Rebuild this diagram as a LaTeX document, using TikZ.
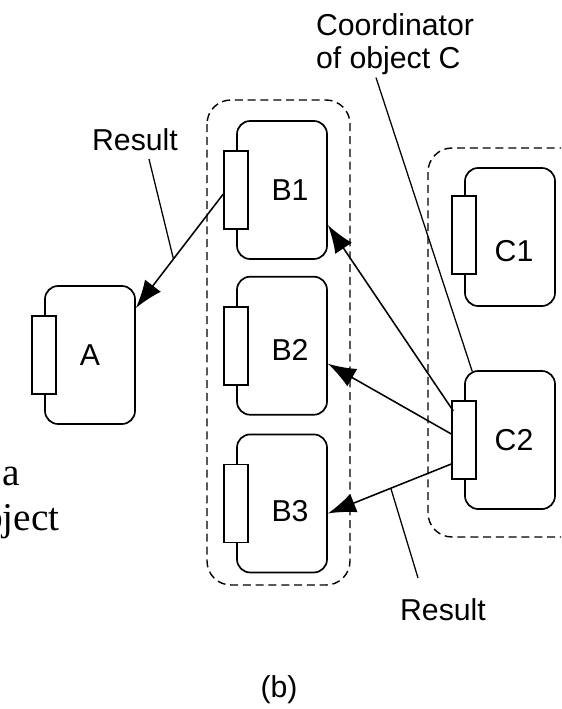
\documentclass[tikz,border=0pt]{standalone}
\usepackage{fontspec}
\setmainfont{Liberation Sans}
\newfontfamily\serifpart{Liberation Serif}
\usetikzlibrary{arrows.meta}
\usetikzlibrary{calc}
\usetikzlibrary{positioning}
\tikzstyle{object} = [draw, rounded corners=0.33cm, line width=1.2pt,
    minimum width=2.25cm, minimum height=3.45cm]
\tikzstyle{port} = [draw, fill=white, line width=1.2pt,
    minimum width=0.6cm, minimum height=1.95cm]
\tikzstyle{cluster} = [draw, line width=1pt, dash pattern=on 0.2cm off 0.12cm,
    rounded corners=0.6cm]
\tikzstyle{call} = [->, line width=1.1pt]
\tikzstyle{pointer} = [line width=0.9pt]

\begin{document}
\begin{tikzpicture}[x=0.025cm, y=-0.025cm, >={Latex[length=0.7cm,width=0.5cm]},
    every node/.style={font=\fontsize{21.5}{23.5}\selectfont}]
    \clip (0,0) rectangle (561,709);

    % the two dashed object groups
    \draw[cluster] (207,100) rectangle (350,585);
    \draw[cluster] (428,148) rectangle (610,537);

    % objects, each with its port on the left side
    \node [object, label={[yshift=0cm]center:A}] (A) at (90,355) {};
    \node [object, label={[xshift=0.2cm]center:B1}] (B1) at (282,190) {};
    \node [object, below=0.4cm of B1, label={[xshift=0.2cm,yshift=-0.1cm]center:B2}] (B2) {};
    \node [object, below=0.45cm of B2, label={[xshift=0.2cm,yshift=-0.2cm]center:B3}] (B3) {};
    \node [object, label={[xshift=0.1cm,yshift=-0.35cm]center:C1}] (C1) at (510,237) {};
    \node [object, label={[xshift=0.1cm]center:C2}] (C2) at (510,440) {};

    \node [port] (Ap) at (A.west) {};
    \node [port] (B1p) at (B1.west) {};
    \node [port] (B2p) at (B2.west) {};
    \node [port] (B3p) at (B3.west) {};
    \node [port] (C1p) at ($(C1.west)+(0,-2)$) {};
    \node [port] (C2p) at (C2.west) {};

    % calls between the objects
    \draw [call] ($(B1p.west)+(0,4)$) -- coordinate[pos=0.57] (resA) ($(A.east)+(0,-47)$);
    \draw [call] ($(C2p.west)+(2,-29)$) -- ($(B1.east)+(0,35)$);
    \draw [call] ($(C2p.west)+(0,-6)$) -- ($(B2.east)+(0,18)$);
    \draw [call] ($(C2p.west)+(0,24)$) -- coordinate[pos=0.49] (resC) ($(B3.east)+(0,10)$);

    % annotations
    \node [align=left] (coord) at (395,44) {Coordinator\\of object C};
    \draw [pointer] ($(coord.south)+(-19,-2)$) -- ($(C2.north west)+(8,1)$);
    \node (resultA) at (135,140) {Result};
    \draw [pointer] ($(resultA.south)+(14,3)$) -- (resA);
    \node (resultC) at (443,610) {Result};
    \draw [pointer] ($(resultC.north)+(-25,-16)$) -- (resC);
    \node (caption) at (279,690) {(b)};

    % pieces of the neighbouring page text
    \node [font=\serifpart\fontsize{28}{34}\selectfont, anchor=base east, inner sep=0pt] (fraga) at (20,485) {a};
    \node [font=\serifpart\fontsize{28}{34}\selectfont, anchor=base east, inner sep=0pt] (fragb) at (60,530) {object};
\end{tikzpicture}
\end{document}
